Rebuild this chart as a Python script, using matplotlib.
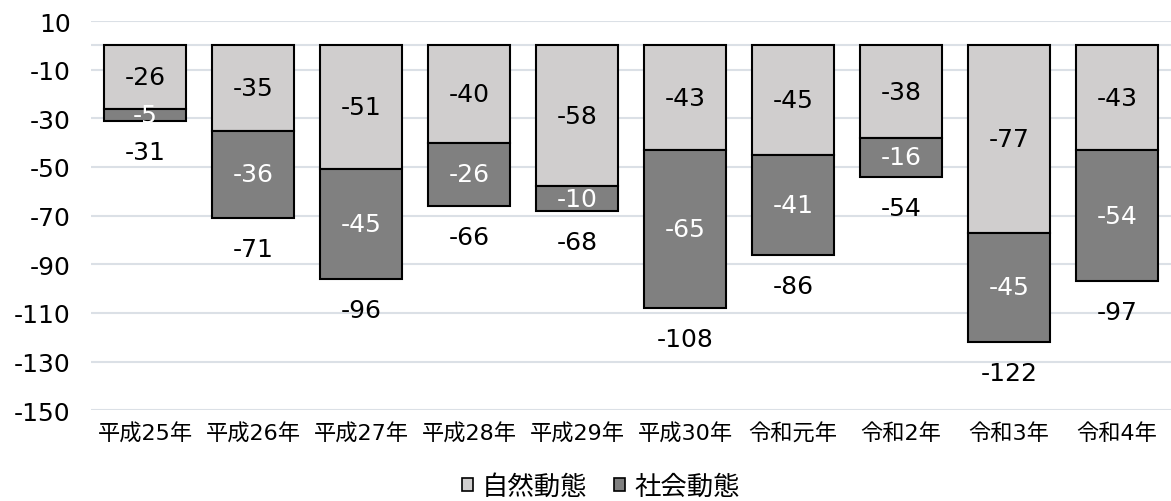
import matplotlib
matplotlib.use("Agg")
import matplotlib.pyplot as plt
from matplotlib.patches import Patch
import numpy as np

fam = ['DejaVu Sans', 'Noto Sans CJK JP']
plt.rcParams['font.family'] = fam

years = ["平成25年", "平成26年", "平成27年", "平成28年", "平成29年",
         "平成30年", "令和元年", "令和2年", "令和3年", "令和4年"]
natural = [-26, -35, -51, -40, -58, -43, -45, -38, -77, -43]
social = [-5, -36, -45, -26, -10, -65, -41, -16, -45, -54]
totals = [-31, -71, -96, -66, -68, -108, -86, -54, -122, -97]
yticks = [10, -10, -30, -50, -70, -90, -110, -130, -150]

light = "#d0cece"
dark = "#808080"
grid_c = "#dbe0e6"

fig = plt.figure(figsize=(11.71, 5.02), dpi=100)
ax = fig.add_axes([0.078, 0.181, 0.922, 0.775])

x = np.arange(len(years))
w = 0.76
ax.bar(x, natural, w, color=light, edgecolor="black", linewidth=1.5, zorder=3)
ax.bar(x, social, w, bottom=natural, color=dark, edgecolor="black", linewidth=1.5, zorder=3)

num_fs = 18
for xi, n, s, t in zip(x, natural, social, totals):
    ax.text(xi, n / 2, f"{n}", ha="center", va="center", fontsize=num_fs, color="black", zorder=4)
    ax.text(xi, n + s / 2, f"{s}", ha="center", va="center", fontsize=num_fs, color="white", zorder=4)
    ax.annotate(f"{t}", (xi, n + s), xytext=(0, -31), textcoords="offset pixels",
                ha="center", va="center", fontsize=num_fs, color="black", zorder=4)

ax.set_xlim(-0.5, len(years) - 0.5)
ax.set_ylim(-150, 10)
ax.set_yticks(yticks + [0])
ax.set_yticklabels([str(v) for v in yticks] + [""])
ax.set_xticks(x)
ax.set_xticklabels(years, fontsize=16)
ax.tick_params(axis="y", labelsize=num_fs, length=0, pad=15)
ax.tick_params(axis="x", length=0, pad=9)
ax.grid(axis="y", color=grid_c, linewidth=1.5, zorder=0)
for sp in ax.spines.values():
    sp.set_visible(False)

handles = [Patch(facecolor=light, edgecolor="black", linewidth=1.2, label="自然動態"),
           Patch(facecolor=dark, edgecolor="black", linewidth=1.2, label="社会動態")]
fig.legend(handles=handles, loc="center", bbox_to_anchor=(0.513, 0.028), ncol=2,
           frameon=False, fontsize=19, handlelength=0.42, handleheight=0.42,
           handletextpad=0.35, columnspacing=1.0)

fig.savefig("out.png", dpi=100)
